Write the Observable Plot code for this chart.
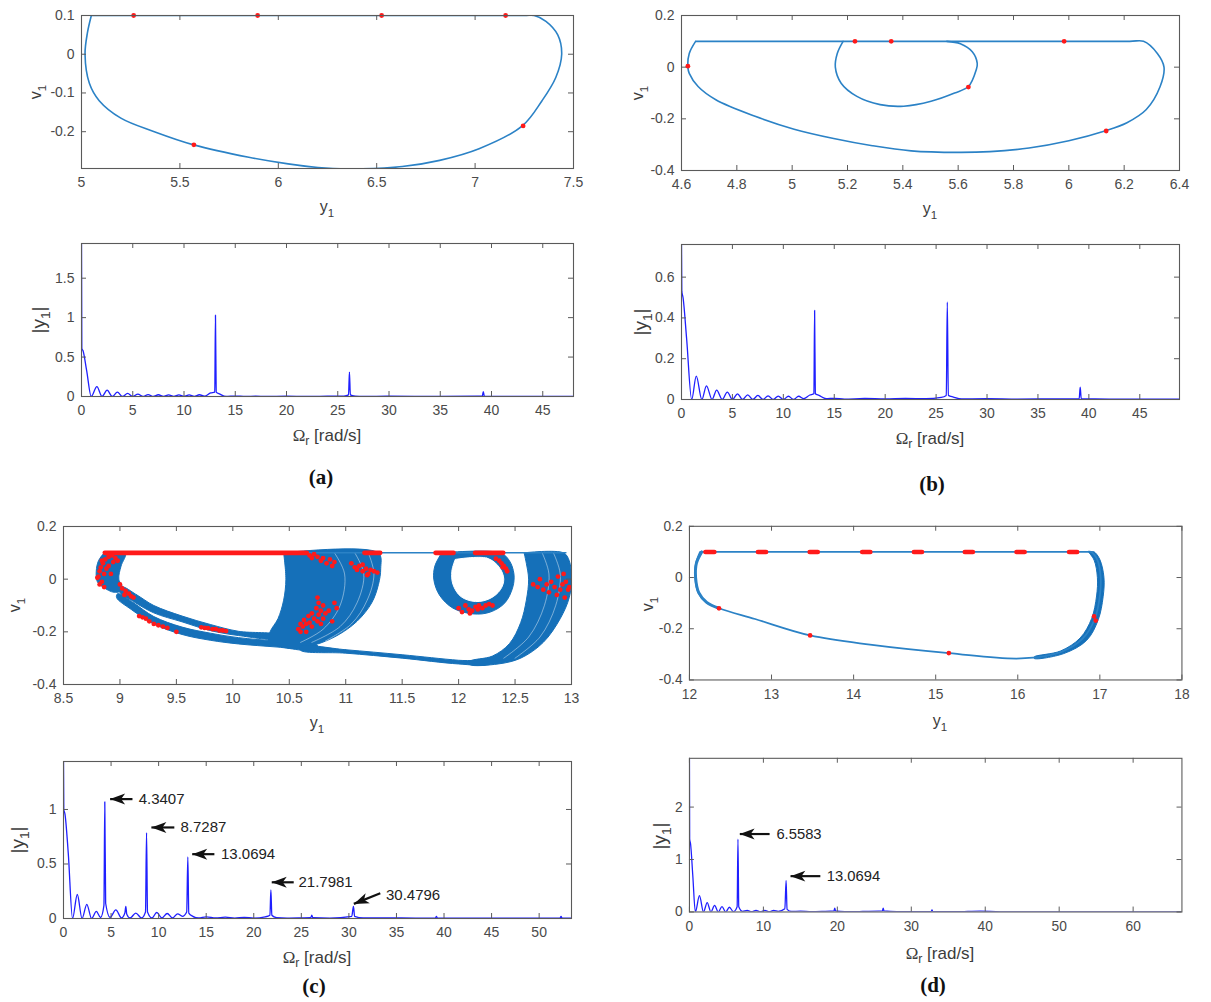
<!DOCTYPE html>
<html>
<head>
<meta charset="utf-8">
<script src="https://cdn.jsdelivr.net/npm/d3@7"></script>
<script src="https://cdn.jsdelivr.net/npm/@observablehq/plot@0.6"></script>
<style>
  body { margin: 0; background: #fff; }
  #fig { position: relative; width: 1211px; height: 1002px; overflow: hidden; background: #fff;
         font-family: "Liberation Sans", Arial, sans-serif; }
  .wrap { position: absolute; }
  .lab { position: absolute; white-space: nowrap; color: #3c3c3c; transform: translate(-50%, -50%); line-height: 1; }
  .lab.rot { transform: translate(-50%, -50%) rotate(-90deg); }
  .lab sub { font-size: 72%; vertical-align: -0.4em; line-height: 0; }
  .omega { font-family: "Liberation Serif", "Times New Roman", serif; }
  .panel { position: absolute; transform: translate(-50%, -50%); font-family: "Liberation Serif", "Times New Roman", serif;
           font-weight: bold; font-size: 21px; color: #111; }
</style>
</head>
<body>
<div id="fig"></div>
<script>
// ---------- (a) period-1 orbit: phase portrait and spectrum ----------
const phaseA = [[5.05,0.1],[5.1,0.1],[6.2,0.1],[7.25,0.1],[7.30,0.1],[7.36,0.085],[7.42,0.05],[7.44,0],[7.41,-0.06],
  [7.34,-0.12],[7.24,-0.185],[7.02,-0.244],[6.82,-0.274],[6.63,-0.29],[6.40,-0.296],[6.24,-0.294],[6.05,-0.283],
  [5.85,-0.266],[5.57,-0.234],[5.37,-0.2],[5.2,-0.165],[5.09,-0.12],[5.04,-0.075],[5.018,0],[5.03,0.055],[5.05,0.1]];
const poincareA = [[5.265,0.1],[5.895,0.1],[6.525,0.1],[7.155,0.1],[5.571,-0.234],[7.244,-0.185]];
const spectrumA = [[0,1.94],[0.03,0.61],[0.15,0.58],[0.5,0.33],[0.95,0],[1.5,0.125],[2,0],[2.5,0.08],[3,0],[3.5,0.055],
  [4,0],[4.5,0.04],[5,0],[5.5,0.03],[6,0],[6.5,0.025],[7,0],[7.5,0.022],[8,0],[8.5,0.02],[9,0],[9.5,0.02],[10,0],
  [10.5,0.02],[11,0],[11.5,0.022],[12,0.004],[12.6,0.045],[13.0,0.055],[13.07,1.03],[13.14,0.055],[13.5,0.03],[14.1,0],
  [15,0.006],[16,0],[17,0.005],[18,0],[20,0.004],[22,0],[24,0.004],[25.6,0.006],[26.05,0.02],[26.14,0.31],[26.23,0.02],
  [26.7,0.005],[27.5,0],[30,0.003],[35,0.002],[39.1,0.005],[39.2,0.06],[39.3,0.005],[40,0],[48,0]];

// ---------- (b) period-2 orbit ----------
const phaseBOuter = [[4.651,0.1],[4.7,0.1],[5.5,0.1],[6.22,0.1],[6.27,0.1],[6.32,0.053],[6.344,0],[6.33,-0.075],
  [6.28,-0.164],[6.21,-0.215],[6.13,-0.247],[6.0,-0.285],[5.856,-0.313],[5.715,-0.327],[5.6,-0.33],[5.43,-0.324],
  [5.29,-0.304],[5.15,-0.276],[5.007,-0.24],[4.866,-0.19],[4.724,-0.126],[4.66,-0.075],[4.628,-0.024],[4.623,0],
  [4.628,0.053],[4.651,0.1]];
const phaseBInner = [[5.184,0.1],[5.163,0.053],[5.156,0],[5.177,-0.062],[5.234,-0.113],[5.318,-0.145],[5.403,-0.151],
  [5.502,-0.132],[5.587,-0.1],[5.637,-0.075],[5.665,-0.011],[5.669,0.015],[5.651,0.06],[5.608,0.091],[5.559,0.1]];
const poincareB = [[4.623,0.004],[5.227,0.1],[5.358,0.1],[5.983,0.1],[5.637,-0.077],[6.135,-0.247]];
const spectrumB = [[0,0.76],[0.03,0.53],[0.15,0.5],[0.5,0.3],[1,0],[1.45,0.115],[2,0],[2.45,0.067],[3,0],[3.45,0.046],
  [4,0],[4.5,0.036],[5,0],[5.5,0.028],[6,0],[6.5,0.023],[7,0],[7.5,0.02],[8,0],[8.5,0.018],[9,0],[9.5,0.017],[10,0],
  [10.5,0.016],[11,0],[11.5,0.016],[12,0.004],[12.6,0.022],[13.0,0.028],[13.07,0.437],[13.14,0.028],[13.5,0.02],
  [14.2,0.004],[15,0.006],[16,0.002],[18,0.005],[20,0.003],[22,0.005],[24,0.004],[25.5,0.01],[26.0,0.02],[26.1,0.478],
  [26.2,0.02],[26.7,0.012],[27.5,0.003],[30,0.004],[33,0.002],[36,0.003],[39.05,0.004],[39.15,0.06],[39.25,0.004],
  [42,0.002],[48.9,0.002]];

// ---------- (c) chaotic motion: band outlines of the attractor ----------
const attrLeft = [[8.86,0.1],[9.05,0.1],[9.01,0.05],[8.99,0.0],[9.03,-0.04],[8.95,-0.05],[8.85,-0.03],[8.8,-0.01],
  [8.79,0.03],[8.81,0.07],[8.86,0.1]];
const attrUpperLane = [[9.02,-0.03],[9.15,-0.06],[9.3,-0.1],[9.55,-0.14],[9.8,-0.172],[10.05,-0.198],[10.4,-0.212],
  [10.4,-0.226],[10.05,-0.214],[9.8,-0.195],[9.55,-0.162],[9.3,-0.128],[9.12,-0.085],[9.0,-0.05]];
const attrLowerLane = [[8.98,-0.055],[9.12,-0.09],[9.3,-0.142],[9.55,-0.182],[9.8,-0.205],[10.05,-0.222],[10.4,-0.236],
  [10.75,-0.252],[10.75,-0.27],[10.4,-0.258],[10.05,-0.246],[9.8,-0.232],[9.55,-0.21],[9.3,-0.17],[9.1,-0.115],[8.97,-0.07]];
const attrMiddle = [[10.45,0.1],[11.29,0.1],[11.31,0.04],[11.29,-0.02],[11.23,-0.09],[11.1,-0.16],[10.92,-0.215],
  [10.72,-0.25],[10.5,-0.262],[10.32,-0.235],[10.33,-0.2],[10.4,-0.15],[10.45,-0.08],[10.47,0.0],[10.45,0.1]];
const attrBottomLane = [[10.6,-0.255],[11.0,-0.268],[11.5,-0.287],[12.0,-0.308],[12.25,-0.314],[12.25,-0.324],
  [12.0,-0.322],[11.5,-0.3],[11.0,-0.281],[10.6,-0.27]];
const attrRing = [[11.85,0.1],[12.37,0.1],[12.45,0.07],[12.49,0.02],[12.48,-0.03],[12.41,-0.09],[12.28,-0.125],
  [12.13,-0.132],[11.95,-0.11],[11.83,-0.06],[11.78,0.0],[11.79,0.05],[11.85,0.1]];
const attrRingHole = [[11.97,0.075],[12.25,0.08],[12.36,0.045],[12.4,0.0],[12.37,-0.04],[12.28,-0.073],[12.15,-0.085],
  [12.02,-0.066],[11.95,-0.02],[11.94,0.03],[11.97,0.075]];
const attrRight = [[12.58,0.1],[12.93,0.1],[12.98,0.07],[13.0,0.0],[12.98,-0.07],[12.9,-0.15],[12.75,-0.24],
  [12.55,-0.3],[12.35,-0.322],[12.1,-0.324],[12.1,-0.312],[12.3,-0.292],[12.45,-0.245],[12.55,-0.165],[12.6,-0.08],
  [12.62,0.0],[12.6,0.06],[12.58,0.1]];
// individual trajectories that show through the dense bands
const attrStrands = [
  [[10.9,0.1],[10.99,0.02],[10.95,-0.1],[10.8,-0.19],[10.6,-0.24]],
  [[11.08,0.1],[11.16,0.02],[11.1,-0.09],[10.95,-0.18],[10.7,-0.24]],
  [[11.2,0.1],[11.25,0.02],[11.19,-0.08],[11.05,-0.17],[10.82,-0.235]],
  [[12.74,0.1],[12.8,0.02],[12.76,-0.1],[12.62,-0.22],[12.4,-0.3]],
  [[12.84,0.1],[12.9,0.02],[12.86,-0.1],[12.72,-0.22],[12.5,-0.3]]
];
const attrTop = [[8.86,0.1],[12.95,0.1]];
const sectionSpansC = [[8.87,10.66],[11.17,11.31],[11.8,11.96],[12.15,12.4]];
const sectionC = [
  [8.82,0.03],[8.81,0.01],[8.83,0.045],[8.85,0.06],[8.87,0.075],[8.9,0.085],[8.93,0.09],[8.96,0.08],[8.98,0.07],
  [8.88,0.04],[8.86,0.02],[8.84,-0.01],[8.82,-0.02],[8.86,-0.03],[8.9,0.05],[8.94,0.065],[8.92,0.02],[8.8,0.005],
  [8.84,0.07],[8.9,0.095],
  [9.0,-0.02],[9.02,-0.035],[9.05,-0.045],[9.08,-0.055],[9.1,-0.065],[9.04,-0.06],[9.12,-0.07],
  [9.17,-0.14],[9.2,-0.145],[9.23,-0.15],[9.26,-0.16],[9.3,-0.17],[9.34,-0.175],[9.38,-0.18],[9.42,-0.185],[9.5,-0.2],
  [9.72,-0.183],[9.75,-0.185],[9.78,-0.186],[9.82,-0.19],[9.85,-0.19],[9.88,-0.195],[9.91,-0.195],[9.94,-0.197],
  [10.58,-0.19],[10.6,-0.17],[10.62,-0.18],[10.63,-0.155],[10.65,-0.2],[10.67,-0.14],[10.68,-0.165],[10.7,-0.13],
  [10.7,-0.18],[10.72,-0.15],[10.74,-0.11],[10.75,-0.16],[10.76,-0.135],[10.78,-0.12],[10.78,-0.17],[10.8,-0.1],
  [10.8,-0.15],[10.82,-0.13],[10.85,-0.12],[10.88,-0.16],[10.9,-0.09],[10.92,-0.11],[10.75,-0.07],[10.76,-0.09],
  [10.6,-0.2],[10.65,-0.17],
  [10.68,0.09],[10.7,0.08],[10.72,0.095],[10.75,0.085],[10.78,0.07],[10.8,0.08],[10.83,0.06],[10.86,0.075],[10.9,0.065],
  [10.88,0.05],
  [11.05,0.06],[11.08,0.045],[11.1,0.035],[11.12,0.05],[11.15,0.03],[11.18,0.04],[11.2,0.02],[11.22,0.035],[11.25,0.03],
  [11.28,0.025],[11.15,0.055],[11.19,0.015],
  [12.0,-0.11],[12.03,-0.125],[12.06,-0.1],[12.09,-0.115],[12.12,-0.12],[12.15,-0.105],[12.18,-0.1],[12.21,-0.11],
  [12.24,-0.1],[12.27,-0.095],[12.3,-0.1],[12.1,-0.13],[12.17,-0.115],
  [12.33,0.078],[12.36,0.07],[12.38,0.06],[12.4,0.05],[12.42,0.04],[12.43,0.03],[12.39,0.045],
  [12.66,-0.02],[12.7,-0.03],[12.72,0.0],[12.75,-0.04],[12.78,-0.02],[12.8,-0.05],[12.82,-0.01],[12.85,-0.03],
  [12.87,-0.06],[12.88,0.01],[12.9,-0.04],[12.92,-0.02],[12.94,-0.07],[12.95,-0.01],[12.97,-0.04],[12.93,0.02],[12.98,-0.03]
];
const spectrumC = [[0,1.44],[0.03,1.0],[0.15,0.96],[0.5,0.6],[0.95,0],[1.45,0.22],[1.95,0],[2.45,0.13],[2.95,0],
  [3.45,0.065],[3.9,0.01],[4.25,0.12],[4.34,1.07],[4.43,0.14],[4.9,0.01],[5.5,0.08],[6.1,0.005],[6.45,0.05],[6.55,0.11],
  [6.65,0.04],[7.0,0.005],[7.6,0.05],[8.2,0.005],[8.62,0.06],[8.73,0.787],[8.83,0.06],[9.3,0.005],[9.8,0.055],
  [10.35,0.005],[10.9,0.046],[11.45,0.005],[12.0,0.043],[12.5,0.02],[12.95,0.06],[13.07,0.564],[13.17,0.05],[13.6,0.02],
  [14.2,0.005],[15,0.015],[16,0.005],[17,0.012],[18,0.004],[19,0.01],[20,0.004],[21.2,0.015],[21.7,0.03],[21.8,0.262],
  [21.9,0.03],[22.4,0.008],[23.5,0.004],[25,0.006],[26.0,0.008],[26.1,0.03],[26.2,0.008],[28,0.004],[30.3,0.02],
  [30.48,0.11],[30.6,0.02],[31.5,0.005],[34,0.006],[37,0.004],[39.1,0.005],[39.2,0.02],[39.3,0.005],[43,0.003],
  [47,0.003],[52.2,0.004],[52.3,0.02],[52.4,0.003],[53.4,0.003]];
const peakNotesC = [
  {tipX: 4.9, tipY: 1.095, tailX: 7.25, tailY: 1.095, textX: 7.9, textY: 1.095, label: "4.3407"},
  {tipX: 9.24, tipY: 0.835, tailX: 11.65, tailY: 0.835, textX: 12.3, textY: 0.835, label: "8.7287"},
  {tipX: 13.53, tipY: 0.59, tailX: 15.86, tailY: 0.59, textX: 16.55, textY: 0.59, label: "13.0694"},
  {tipX: 21.89, tipY: 0.332, tailX: 24.2, tailY: 0.332, textX: 24.7, textY: 0.332, label: "21.7981"},
  {tipX: 30.52, tipY: 0.134, tailX: 33.3, tailY: 0.232, textX: 33.9, textY: 0.215, label: "30.4796"}
];

// ---------- (d) period-doubled orbit ----------
const phaseD = [[12.13,0.1],[12.2,0.1],[14.5,0.1],[16.84,0.1],[16.89,0.1],[16.97,0.069],[17.01,0],[17.0,-0.072],
  [16.94,-0.16],[16.79,-0.239],[16.53,-0.29],[16.04,-0.316],[15.16,-0.295],[14.2,-0.262],[13.47,-0.226],[12.8,-0.162],
  [12.36,-0.12],[12.2,-0.096],[12.11,-0.06],[12.07,0],[12.08,0.056],[12.13,0.1]];
const phaseDLeft = [[12.15,0.1],[12.085,0.056],[12.075,0],[12.115,-0.06],[12.21,-0.097],[12.36,-0.12]];
const bandD = [[16.86,0.1],[16.93,0.1],[17.0,0.07],[17.05,0.0],[17.04,-0.075],[16.98,-0.165],[16.84,-0.245],
  [16.56,-0.297],[16.2,-0.316],[16.2,-0.31],[16.52,-0.287],[16.76,-0.236],[16.9,-0.16],[16.96,-0.072],[16.97,0.0],
  [16.93,0.068],[16.86,0.1]];
const sectionSpansD = [[12.2,12.31],[12.84,12.94],[13.47,13.57],[14.11,14.21],[14.74,14.84],[15.36,15.46],[15.99,16.09],[16.63,16.73]];
const sectionD = [[12.36,-0.12],[13.47,-0.226],[15.16,-0.295],[16.93,-0.152],[16.95,-0.168]];
const spectrumD = [[0,2.93],[0.03,1.39],[0.15,1.3],[0.45,0.7],[0.8,0],[1.35,0.31],[1.9,0],[2.4,0.18],[2.9,0],
  [3.4,0.125],[3.9,0],[4.4,0.1],[4.9,0],[5.4,0.09],[5.95,0.005],[6.45,0.1],[6.56,1.39],[6.67,0.1],[7.2,0.01],
  [7.8,0.03],[8.4,0.005],[9,0.03],[9.6,0.005],[10.2,0.03],[10.8,0.005],[11.4,0.03],[12,0.01],[12.9,0.06],[13.07,0.6],
  [13.2,0.05],[13.8,0.01],[15,0.015],[16.5,0.005],[18,0.01],[19.55,0.02],[19.65,0.075],[19.75,0.02],[21,0.005],
  [23,0.008],[26.1,0.02],[26.2,0.075],[26.3,0.02],[28,0.005],[30,0.006],[32.7,0.01],[32.8,0.04],[32.9,0.01],[36,0.004],
  [39.3,0.015],[42,0.003],[50,0.003],[66.6,0.003]];
const peakNotesD = [
  {tipX: 6.81, tipY: 1.486, tailX: 10.84, tailY: 1.486, textX: 11.76, textY: 1.486, label: "6.5583"},
  {tipX: 13.67, tipY: 0.683, tailX: 17.7, tailY: 0.683, textX: 18.58, textY: 0.683, label: "13.0694"}
];

// ---------- axis ticks ----------
const ticksA = {phaseX: [5,5.5,6,6.5,7,7.5], phaseY: [-0.2,-0.1,0,0.1], fftX: [0,5,10,15,20,25,30,35,40,45], fftY: [0,0.5,1,1.5]};
const ticksB = {phaseX: [4.6,4.8,5,5.2,5.4,5.6,5.8,6,6.2,6.4], phaseY: [-0.4,-0.2,0,0.2], fftX: [0,5,10,15,20,25,30,35,40,45], fftY: [0,0.2,0.4,0.6]};
const ticksC = {phaseX: [8.5,9,9.5,10,10.5,11,11.5,12,12.5,13], phaseY: [-0.4,-0.2,0,0.2], fftX: [0,5,10,15,20,25,30,35,40,45,50], fftY: [0,0.5,1]};
const ticksD = {phaseX: [12,13,14,15,16,17,18], phaseY: [-0.4,-0.2,0,0.2], fftX: [0,10,20,30,40,50,60], fftY: [0,1,2]};

// ---------- drawing ----------
const fig = document.getElementById("fig");
const AXIS = "#5a5a5a";
const ORBIT = "#2b82c6";
const BAND = "#1570b9";
const SPEC = "#1f1fff";
const DOT = "#ff1a1a";
const px = d => d[0], py = d => d[1];

// filled left-pointing arrowhead, tip at the origin
const arrowHead = {draw(ctx) { ctx.moveTo(0, 0); ctx.lineTo(15, -5.5); ctx.lineTo(11, 0); ctx.lineTo(15, 5.5); ctx.closePath(); }};

function frame(box, xd, yd, xt, yt, marks) {
  const mL = 70, mR = 30, mT = 12, mB = 40;
  const iw = box.R - box.L, ih = box.B - box.T, t = 5;
  const svg = Plot.plot({
    width: iw + mL + mR, height: ih + mT + mB,
    marginLeft: mL, marginRight: mR, marginTop: mT, marginBottom: mB,
    x: {domain: xd}, y: {domain: yd},
    style: {fontFamily: "'Liberation Sans', Arial, sans-serif", fontSize: "14px", color: "#4a4a4a", background: "transparent"},
    marks: [
      ...marks,
      Plot.frame({stroke: AXIS, strokeWidth: 1.1}),
      Plot.tickX(xt, {insetTop: ih - t, stroke: AXIS}),
      Plot.tickX(xt, {insetBottom: ih - t, stroke: AXIS}),
      Plot.tickY(yt, {insetRight: iw - t, stroke: AXIS}),
      Plot.tickY(yt, {insetLeft: iw - t, stroke: AXIS}),
      Plot.axisX({ticks: xt, tickSize: 0, tickPadding: 9, tickFormat: d => String(d), label: null}),
      Plot.axisY({ticks: yt, tickSize: 0, tickPadding: 7, tickFormat: d => String(d), label: null})
    ]
  });
  const w = document.createElement("div");
  w.className = "wrap";
  w.style.left = (box.L - mL) + "px";
  w.style.top = (box.T - mT) + "px";
  w.appendChild(svg);
  fig.appendChild(w);
}

function label(html, x, y, size, rotated) {
  const d = document.createElement("div");
  d.className = "lab" + (rotated ? " rot" : "");
  d.style.left = x + "px"; d.style.top = y + "px"; d.style.fontSize = size + "px";
  d.innerHTML = html;
  fig.appendChild(d);
}
function panelTag(text, x, y) {
  const d = document.createElement("div");
  d.className = "panel"; d.style.left = x + "px"; d.style.top = y + "px"; d.textContent = text;
  fig.appendChild(d);
}

function phaseAxes(box, off) {
  label("y<sub>1</sub>", (box.L + box.R) / 2, box.B + 39, 16);
  label("v<sub>1</sub>", box.L - off, (box.T + box.B) / 2, 16, true);
}
function spectrumAxes(box, off) {
  label("<span class='omega'>Ω</span><sub>r</sub> [rad/s]", (box.L + box.R) / 2, box.B + 39, 17);
  label("|y<sub>1</sub>|", box.L - off, (box.T + box.B) / 2, 19, true);
}

const orbit = (pts, w) => Plot.line(pts, {x: px, y: py, stroke: ORBIT, strokeWidth: w || 1.6, curve: "catmull-rom", clip: true});
const section = pts => Plot.dot(pts, {x: px, y: py, r: 2.4, fill: DOT, stroke: null});
const spans = (s, y) => Plot.ruleY(s, {y: () => y, x1: px, x2: py, stroke: DOT, strokeWidth: 4.6, strokeLinecap: "round"});
const band = (pts, color) => Plot.line(pts, {x: px, y: py, fill: color || BAND, stroke: color || BAND, strokeWidth: 1, curve: "catmull-rom-closed"});
const strands = list => list.map(s => Plot.line(s, {x: px, y: py, stroke: "#ffffff", strokeOpacity: 0.55, strokeWidth: 0.8, curve: "catmull-rom"}));
const spectrum = pts => Plot.line(pts, {x: px, y: py, stroke: SPEC, strokeWidth: 1.3, curve: "monotone-x", clip: true});
const notes = list => [
  Plot.link(list, {x1: "tailX", y1: "tailY", x2: "tipX", y2: "tipY", stroke: "#111", strokeWidth: 2.2}),
  Plot.dot(list, {x: "tipX", y: "tipY", symbol: arrowHead, fill: "#111", stroke: null,
    rotate: d => d.tailY === d.tipY ? 0 : -Math.atan2((d.tailY - d.tipY) * 110, (d.tailX - d.tipX) * 9.5) * 180 / Math.PI}),
  Plot.text(list, {x: "textX", y: "textY", text: "label", textAnchor: "start", fontSize: 15, fill: "#222"})
];

const box = {
  aPhase: {L: 81, R: 573, T: 15, B: 168}, aFFT: {L: 81, R: 573, T: 243, B: 396},
  bPhase: {L: 681, R: 1179, T: 15, B: 170}, bFFT: {L: 681, R: 1179, T: 244, B: 399},
  cPhase: {L: 63, R: 571, T: 526, B: 684}, cFFT: {L: 63, R: 571, T: 761, B: 918},
  dPhase: {L: 690, R: 1190, T: 526, B: 682}, dFFT: {L: 690, R: 1190, T: 758, B: 914}
};

// (a)
frame(box.aPhase, [5, 7.5], [-0.295, 0.1], ticksA.phaseX, ticksA.phaseY, [orbit(phaseA), section(poincareA)]);
phaseAxes(box.aPhase, 45);
frame(box.aFFT, [0, 48], [0, 1.94], ticksA.fftX, ticksA.fftY, [spectrum(spectrumA)]);
spectrumAxes(box.aFFT, 43);
panelTag("(a)", 321, 477);

// (b)
frame(box.bPhase, [4.6, 6.4], [-0.4, 0.2], ticksB.phaseX, ticksB.phaseY,
  [orbit(phaseBOuter), orbit(phaseBInner), section(poincareB)]);
phaseAxes(box.bPhase, 43);
frame(box.bFFT, [0, 48.9], [0, 0.76], ticksB.fftX, ticksB.fftY, [spectrum(spectrumB)]);
spectrumAxes(box.bFFT, 41);
panelTag("(b)", 932, 484);

// (c)
frame(box.cPhase, [8.5, 13], [-0.4, 0.2], ticksC.phaseX, ticksC.phaseY, [
  band(attrLeft), band(attrUpperLane), band(attrLowerLane), band(attrMiddle), band(attrBottomLane),
  band(attrRing), band(attrRingHole, "#ffffff"), band(attrRight), ...strands(attrStrands),
  Plot.line(attrTop, {x: px, y: py, stroke: ORBIT, strokeWidth: 1.5}),
  spans(sectionSpansC, 0.1), section(sectionC)
]);
phaseAxes(box.cPhase, 48);
frame(box.cFFT, [0, 53.4], [0, 1.44], ticksC.fftX, ticksC.fftY, [spectrum(spectrumC), ...notes(peakNotesC)]);
spectrumAxes(box.cFFT, 46);
panelTag("(c)", 314, 986);

// (d)
frame(box.dPhase, [12, 18], [-0.4, 0.2], ticksD.phaseX, ticksD.phaseY,
  [band(bandD), orbit(phaseD, 1.8), orbit(phaseDLeft, 3), spans(sectionSpansD, 0.1), section(sectionD)]);
phaseAxes(box.dPhase, 42);
frame(box.dFFT, [0, 66.6], [0, 2.93], ticksD.fftX, ticksD.fftY, [spectrum(spectrumD), ...notes(peakNotesD)]);
spectrumAxes(box.dFFT, 31);
panelTag("(d)", 933, 985);
</script>
</body>
</html>
